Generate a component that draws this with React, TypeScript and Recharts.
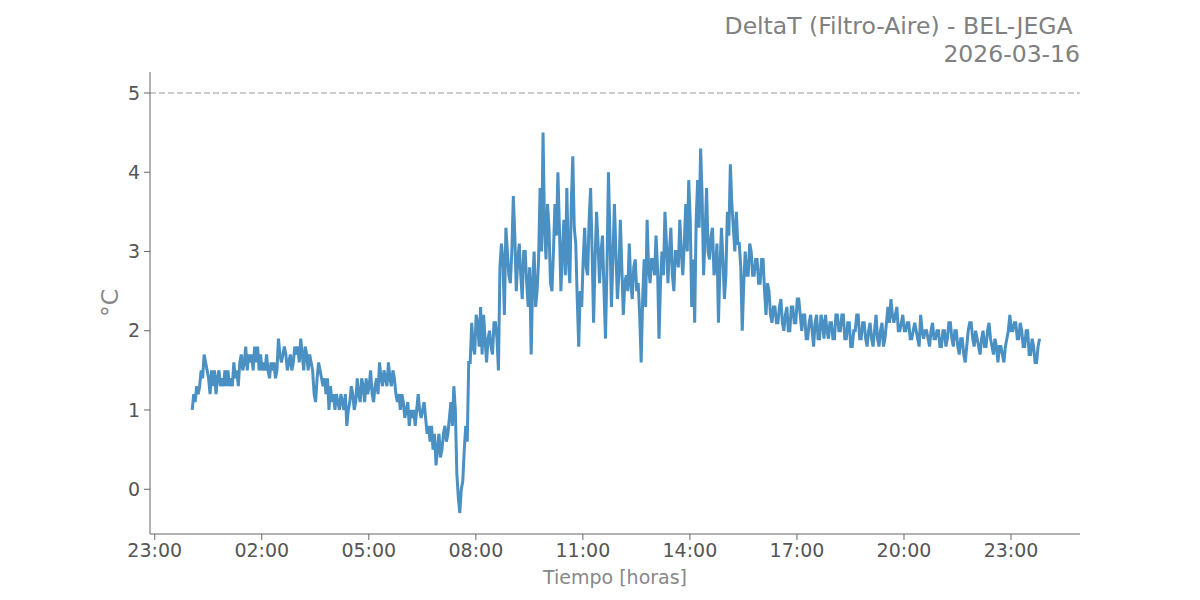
import { LineChart, Line, XAxis, YAxis, ReferenceLine, Label } from 'recharts'

// DeltaT readings, one every 2.5 minutes starting 00:03
const night = [
  1.0, 1.2, 1.1, 1.3, 1.2, 1.3, 1.5, 1.4, 1.7, 1.6, 1.5, 1.4, 1.2, 1.5, 1.3, 1.5, 1.2, 1.4, 1.5, 1.3, 1.4, 1.3, 1.5, 1.3,
  1.5, 1.3, 1.4, 1.3, 1.6, 1.4, 1.5, 1.3, 1.6, 1.7, 1.5, 1.6, 1.8, 1.5, 1.7, 1.6, 1.7, 1.5, 1.8, 1.6, 1.8, 1.5, 1.7, 1.5,
  1.6, 1.5, 1.7, 1.5, 1.4, 1.6, 1.5, 1.6, 1.4, 1.5, 1.9, 1.7, 1.6, 1.7, 1.8, 1.7, 1.5, 1.6, 1.7, 1.5, 1.6, 1.8, 1.7, 1.8,
  1.6, 1.9, 1.7, 1.5, 1.8, 1.7, 1.5, 1.7, 1.6, 1.5, 1.2, 1.1, 1.4, 1.6, 1.5, 1.4, 1.3, 1.4, 1.2, 1.4, 1.0, 1.3, 1.1, 1.2,
]
const early = [
  1.0, 1.2, 1.1, 1.0, 1.2, 1.1, 1.0, 1.2, 0.8, 1.0, 1.1, 1.3, 1.2, 1.0, 1.1, 1.4, 1.2, 1.1, 1.4, 1.3, 1.1, 1.4, 1.2, 1.3,
  1.5, 1.2, 1.1, 1.3, 1.4, 1.2, 1.6, 1.4, 1.3, 1.5, 1.4, 1.3, 1.6, 1.4, 1.3, 1.5, 1.4, 1.2, 1.1, 1.2, 1.0, 1.2, 1.1, 0.9,
  1.0, 1.1, 0.8, 1.0, 0.9, 1.0, 0.8, 1.0, 1.2, 1.0, 0.9, 1.0, 1.1, 0.9, 0.7, 0.8, 0.6, 0.8, 0.5, 0.7, 0.3, 0.5, 0.7, 0.4,
  0.5, 0.7, 0.8, 0.6, 0.7, 0.9, 1.1, 0.8, 1.3, 1.0, 0.2, -0.1, -0.3, 0.0, 0.1, 0.5, 0.8, 0.6, 1.6, 1.6, 2.1, 1.8, 1.7, 2.2,
]
const morning = [
  2.1, 1.8, 2.3, 1.7, 2.2, 1.9, 1.6, 1.9, 2.0, 1.8, 1.7, 2.1, 2.1, 1.9, 1.5, 2.8, 3.1, 2.9, 2.2, 3.3, 3.0, 2.7, 2.6, 3.0,
  3.7, 3.2, 2.5, 2.9, 3.1, 2.7, 2.4, 3.0, 3.0, 2.6, 2.3, 2.8, 1.7, 2.6, 3.0, 2.3, 2.5, 2.9, 3.8, 3.0, 4.5, 3.3, 2.9, 3.6,
  3.3, 2.6, 2.5, 3.0, 3.6, 3.2, 4.0, 3.3, 2.5, 3.0, 3.4, 2.7, 3.8, 2.9, 2.6, 3.6, 4.2, 3.3, 3.1, 2.4, 1.8, 2.5, 2.3, 2.9,
  3.3, 2.8, 2.7, 3.4, 3.8, 3.0, 2.1, 2.9, 3.5, 3.1, 2.6, 3.0, 3.2, 2.5, 1.9, 2.8, 4.0, 3.2, 2.3, 2.9, 3.6, 3.0, 2.4, 2.7,
]
const afternoon = [
  3.4, 2.8, 2.2, 2.6, 2.7, 2.5, 3.1, 2.6, 2.4, 2.8, 2.9, 2.5, 2.6, 2.2, 1.6, 2.4, 2.9, 2.3, 3.4, 2.8, 2.6, 2.9, 2.9, 2.7,
  3.2, 2.8, 1.9, 2.6, 3.0, 2.7, 3.5, 3.1, 2.6, 3.0, 3.3, 2.7, 2.5, 3.0, 3.0, 2.8, 3.4, 3.0, 2.7, 3.1, 3.6, 3.0, 3.9, 3.4,
  2.3, 2.9, 2.1, 3.4, 3.9, 3.3, 4.3, 3.7, 2.7, 3.2, 3.8, 3.0, 2.9, 3.2, 3.3, 2.7, 2.8, 3.1, 2.1, 2.8, 3.3, 2.9, 2.4, 2.7,
  3.5, 3.2, 4.1, 3.6, 3.3, 3.0, 3.5, 3.1, 3.1, 2.8, 2.0, 2.6, 3.0, 2.7, 2.7, 3.1, 3.0, 2.7, 2.7, 2.9, 2.9, 2.6, 2.6, 2.9,
]
const evening = [
  2.9, 2.5, 2.2, 2.6, 2.5, 2.2, 2.1, 2.3, 2.3, 2.1, 2.1, 2.3, 2.4, 2.1, 2.0, 2.2, 2.3, 2.0, 2.0, 2.3, 2.3, 2.1, 2.1, 2.4,
  2.4, 2.2, 2.0, 2.2, 2.2, 1.9, 1.9, 2.1, 2.2, 2.0, 1.8, 2.1, 2.2, 1.9, 1.9, 2.2, 2.1, 1.9, 2.2, 2.0, 1.9, 2.1, 2.1, 1.9,
  1.9, 2.2, 2.2, 2.0, 2.0, 2.2, 2.2, 1.9, 1.9, 2.1, 2.1, 1.8, 1.8, 2.0, 2.0, 2.2, 2.2, 1.9, 1.9, 2.1, 2.1, 1.9, 1.8, 2.0,
  2.1, 1.9, 1.8, 2.0, 2.2, 1.9, 1.8, 2.0, 2.1, 1.8, 1.9, 2.1, 2.3, 2.1, 2.4, 2.2, 2.1, 2.2, 2.3, 2.0, 2.0, 2.1, 2.2, 2.0,
]
const late = [
  2.0, 2.1, 2.1, 1.9, 1.9, 2.0, 2.1, 2.0, 1.9, 1.8, 2.2, 2.0, 1.9, 2.0, 2.0, 1.9, 1.8, 2.0, 2.1, 1.9, 1.9, 2.0, 2.0, 1.8,
  1.8, 2.0, 2.0, 1.8, 1.9, 2.1, 2.1, 1.9, 1.8, 2.0, 2.0, 1.8, 1.7, 1.9, 1.9, 1.7, 1.6, 1.8, 2.0, 2.1, 2.1, 1.9, 1.8, 2.0,
  1.9, 1.8, 1.7, 1.9, 2.0, 1.8, 1.8, 2.0, 2.1, 1.9, 1.8, 1.7, 1.9, 1.8, 1.6, 1.8, 1.8, 1.7, 1.6, 1.8, 1.9, 2.0, 2.2, 2.0,
  2.0, 2.1, 2.1, 1.9, 1.9, 2.1, 2.0, 1.8, 1.8, 2.0, 2.0, 1.7, 1.7, 1.9, 1.8, 1.6, 1.6, 1.8, 1.9,
]

const startMinute = 3
const stepMinutes = 2.5
// minutes relative to midnight of 2026-03-16; 23:00 of the day before is -60
const xTicks = [-60, 120, 300, 480, 660, 840, 1020, 1200, 1380]
const yTicks = [0, 1, 2, 3, 4, 5]
const limit = 5

const values = [...night, ...early, ...morning, ...afternoon, ...evening, ...late]
const data = values.map((v, i) => ({ t: startMinute + i * stepMinutes, v }))

const fmtHour = (m: number) => {
  const h = Math.floor((((m % 1440) + 1440) % 1440) / 60)
  return `${String(h).padStart(2, '0')}:00`
}

const font = 'DejaVu Sans, sans-serif'

export default function App() {
  return (
    <div style={{ position: 'absolute', left: 0, top: 0, width: 1200, height: 600, fontFamily: font, background: '#fff' }}>
      <div style={{ position: 'absolute', right: 120, top: 12, textAlign: 'right', color: '#808080', fontSize: 23.5, lineHeight: '28px', whiteSpace: 'pre' }}>
        {'DeltaT (Filtro-Aire) - BEL-JEGA \n2026-03-16'}
      </div>
      <LineChart width={1200} height={600} data={data} margin={{ top: 72, right: 120, bottom: 0, left: 0 }}>
        <XAxis
          dataKey="t"
          type="number"
          domain={[-68, 1496]}
          ticks={xTicks}
          tickFormatter={fmtHour}
          allowDataOverflow
          height={66}
          stroke="#666"
          tickSize={6}
          tickMargin={4}
          tick={{ fill: '#555', fontSize: 19, fontFamily: font }}
        >
          <Label value="Tiempo [horas]" position="insideBottom" offset={16} fill="#888" fontSize={19} fontFamily={font} />
        </XAxis>
        <YAxis
          type="number"
          domain={[-0.565, 5.265]}
          ticks={yTicks}
          allowDataOverflow
          width={150}
          stroke="#666"
          tickSize={6}
          tickMargin={4}
          tick={{ fill: '#555', fontSize: 19, fontFamily: font }}
        >
          <Label value="°C" angle={-90} position="center" dx={35} fill="#888" fontSize={23.5} fontFamily={font} />
        </YAxis>
        <ReferenceLine y={limit} stroke="#bbb" strokeWidth={1.5} strokeDasharray="6 3" />
        <Line
          dataKey="v"
          type="linear"
          stroke="#4a90c2"
          strokeWidth={3}
          dot={false}
          isAnimationActive={false}
        />
      </LineChart>
    </div>
  )
}
